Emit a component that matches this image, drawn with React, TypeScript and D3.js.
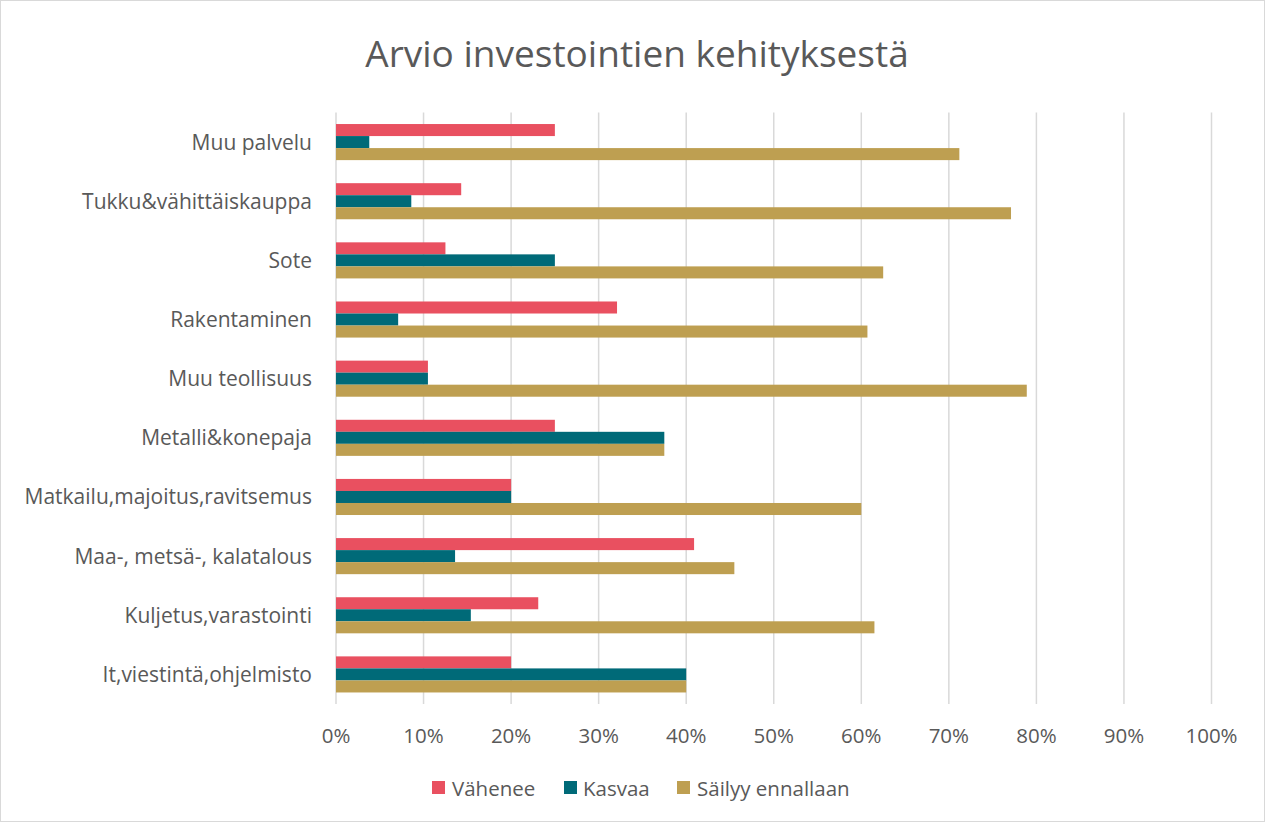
import React from "react";
import * as d3 from "d3";

const categories = [
  "Muu palvelu",
  "Tukku&vähittäiskauppa",
  "Sote",
  "Rakentaminen",
  "Muu teollisuus",
  "Metalli&konepaja",
  "Matkailu,majoitus,ravitsemus",
  "Maa-, metsä-, kalatalous",
  "Kuljetus,varastointi",
  "It,viestintä,ohjelmisto",
];
const vahenee = [25.0, 14.3, 12.5, 32.1, 10.5, 25.0, 20.0, 40.9, 23.1, 20.0];
const kasvaa = [3.8, 8.6, 25.0, 7.1, 10.5, 37.5, 20.0, 13.6, 15.4, 40.0];
const sailyy = [71.2, 77.1, 62.5, 60.7, 78.9, 37.5, 60.0, 45.5, 61.5, 40.0];
const seriesNames = ["Vähenee", "Kasvaa", "Säilyy ennallaan"];
const colors = ["#E95060", "#006A78", "#BE9F51"];
const xTicks = [0, 10, 20, 30, 40, 50, 60, 70, 80, 90, 100];

export default function App() {
  const W = 1266, H = 823;
  const left = 336, right = 1211.5, top = 112.5, bottom = 704;
  const x = d3.scaleLinear().domain([0, 100]).range([left, right]);
  const y = d3.scaleBand<string>().domain(categories).range([top, bottom]).paddingInner(0.39).paddingOuter(0.195);
  const barH = y.bandwidth() / 3;
  const series = [vahenee, kasvaa, sailyy];
  const font = "'Open Sans', 'Noto Sans', sans-serif";
  const legendItems = [
    { sx: 432, tx: 452 },
    { sx: 564, tx: 583 },
    { sx: 677, tx: 697 },
  ];
  return (
    <svg width={W} height={H} style={{ position: "absolute", left: 0, top: 0, background: "#fff" }} fontFamily={font}>
      <rect x={0.5} y={0.5} width={W - 2} height={H - 2} fill="#fff" stroke="#d9d9d9" />
      <text x={637} y={67} textAnchor="middle" fontSize={37} fill="#595959">Arvio investointien kehityksestä</text>
      {xTicks.map((t) => (
        <g key={t}>
          <line x1={x(t)} x2={x(t)} y1={top} y2={bottom} stroke="#d9d9d9" strokeWidth={1.5} />
          <text x={x(t)} y={743} textAnchor="middle" fontSize={20.5} fill="#595959">{t}%</text>
        </g>
      ))}
      {categories.map((c, i) => (
        <g key={c}>
          {series.map((s, j) => (
            <rect key={j} x={x(0)} y={(y(c) as number) + j * barH} width={x(s[i]) - x(0)} height={barH} fill={colors[j]} />
          ))}
          <text x={312} y={(y(c) as number) + y.bandwidth() / 2 + 7.5} textAnchor="end" fontSize={21} fill="#595959">{c}</text>
        </g>
      ))}
      {seriesNames.map((n, j) => (
        <g key={n}>
          <rect x={legendItems[j].sx} y={781} width={13} height={13} fill={colors[j]} />
          <text x={legendItems[j].tx} y={796} fontSize={20.5} fill="#595959">{n}</text>
        </g>
      ))}
    </svg>
  );
}
